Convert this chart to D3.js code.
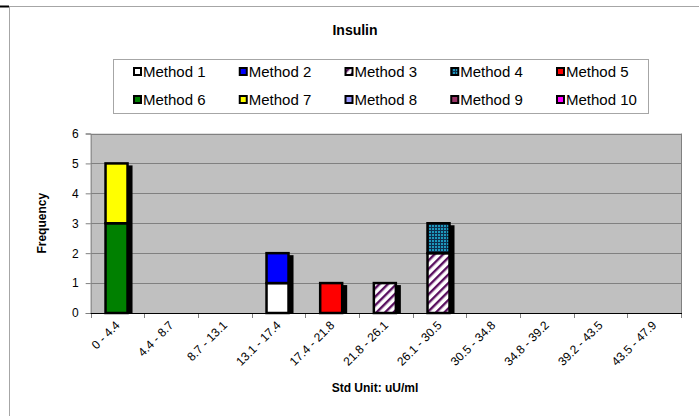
<!DOCTYPE html>
<html><head><meta charset="utf-8">
<script src="https://cdn.jsdelivr.net/npm/d3@7"></script>
<style>
html,body{margin:0;padding:0;background:#fff;}
svg{display:block;font-family:"Liberation Sans",Arial,sans-serif;}
</style></head>
<body>
<svg id="chart" width="699" height="416"></svg>
<script>
const categories = ["0 - 4.4","4.4 - 8.7","8.7 - 13.1","13.1 - 17.4","17.4 - 21.8","21.8 - 26.1","26.1 - 30.5","30.5 - 34.8","34.8 - 39.2","39.2 - 43.5","43.5 - 47.9"];
const methods = ["Method 1","Method 2","Method 3","Method 4","Method 5","Method 6","Method 7","Method 8","Method 9","Method 10"];
const method1  = [0,0,0,1,0,0,0,0,0,0,0];
const method2  = [0,0,0,1,0,0,0,0,0,0,0];
const method3  = [0,0,0,0,0,1,2,0,0,0,0];
const method4  = [0,0,0,0,0,0,1,0,0,0,0];
const method5  = [0,0,0,0,1,0,0,0,0,0,0];
const method6  = [3,0,0,0,0,0,0,0,0,0,0];
const method7  = [2,0,0,0,0,0,0,0,0,0,0];
const method8  = [0,0,0,0,0,0,0,0,0,0,0];
const method9  = [0,0,0,0,0,0,0,0,0,0,0];
const method10 = [0,0,0,0,0,0,0,0,0,0,0];
const yTicks = [0,1,2,3,4,5,6];
const title = "Insulin";
const xTitle = "Std Unit: uU/ml";
const yTitle = "Frequency";

const seriesValues = [method1,method2,method3,method4,method5,method6,method7,method8,method9,method10];
const fills = ["#ffffff","#0000ff","url(#hatch)","url(#checker)","#ff0000","#008000","#ffff00","#9999ff","#993366","#ff00ff"];

const svg = d3.select("#chart");
const defs = svg.append("defs");
const hatch = defs.append("pattern").attr("id","hatch").attr("patternUnits","userSpaceOnUse")
  .attr("width",6).attr("height",6).attr("patternTransform","rotate(45)");
hatch.append("rect").attr("width",6).attr("height",6).attr("fill","#ffffff");
hatch.append("rect").attr("width",2.4).attr("height",6).attr("fill","#5a1060");
const checker = defs.append("pattern").attr("id","checker").attr("patternUnits","userSpaceOnUse")
  .attr("width",3).attr("height",3);
checker.append("rect").attr("width",3).attr("height",3).attr("fill","#0e3050");
checker.append("rect").attr("width",2).attr("height",2).attr("fill","#1d98bc");

// outer chart border (cropped)
svg.append("line").attr("x1",9).attr("x2",699).attr("y1",6.5).attr("y2",6.5).attr("stroke","#a6a6a6");
svg.append("line").attr("x1",9.5).attr("x2",9.5).attr("y1",6).attr("y2",416).attr("stroke","#a6a6a6");
svg.append("line").attr("x1",0).attr("x2",9).attr("y1",6.5).attr("y2",6.5).attr("stroke","#000").attr("stroke-width",2);

const plot = {left:90.7, right:681, top:133.5, bottom:313};
const x = d3.scaleBand().domain(categories).range([plot.left, plot.right]).padding(0);
const y = d3.scaleLinear().domain([0,6]).range([plot.bottom, plot.top]);

// plot background
svg.append("rect").attr("x",plot.left).attr("y",plot.top)
  .attr("width",plot.right-plot.left).attr("height",plot.bottom-plot.top).attr("fill","#c0c0c0");

// gridlines
svg.append("g").selectAll("line").data(yTicks.filter(d=>d>0)).join("line")
  .attr("x1",plot.left).attr("x2",plot.right)
  .attr("y1",d=>Math.round(y(d))+0.5).attr("y2",d=>Math.round(y(d))+0.5)
  .attr("stroke","#808080");
// right border
svg.append("line").attr("x1",plot.right+0.5).attr("x2",plot.right+0.5).attr("y1",plot.top).attr("y2",plot.bottom)
  .attr("stroke","#808080");

// Y axis
const yAxis = d3.axisLeft(y).tickValues(yTicks).tickSize(5).tickPadding(7).tickFormat(d3.format("d"));
const gy = svg.append("g").attr("transform",`translate(${plot.left},0)`).call(yAxis);
gy.select(".domain").attr("stroke","#808080");
gy.selectAll(".tick line").attr("stroke","#808080");
gy.selectAll(".tick text").attr("font-size",12).attr("fill","#000").attr("font-family","Liberation Sans, Arial, sans-serif");

// X axis ticks at boundaries
const boundaries = categories.map(c=>x(c)).concat([plot.right]);
svg.append("g").selectAll("line").data(boundaries).join("line")
  .attr("x1",d=>Math.round(d)+0.5).attr("x2",d=>Math.round(d)+0.5)
  .attr("y1",plot.bottom).attr("y2",plot.bottom+5).attr("stroke","#808080");
svg.append("line").attr("x1",plot.left).attr("x2",plot.right+1).attr("y1",plot.bottom+0.5).attr("y2",plot.bottom+0.5)
  .attr("stroke","#000");

// x labels
svg.append("g").selectAll("text").data(categories).join("text")
  .attr("transform",d=>`translate(${x(d)+x.bandwidth()/2+3},${plot.bottom+13}) rotate(-45)`)
  .attr("text-anchor","end").attr("font-size",12).attr("fill","#000").text(d=>d);

// stacked data
const table = categories.map((c,i)=>{const o={cat:c}; methods.forEach((m,j)=>o[m]=seriesValues[j][i]); return o;});
const stacked = d3.stack().keys(methods)(table);
const barW = 22;
const bx = c => x(c)+x.bandwidth()/2 - barW/2 - 1;

// shadows
const totals = table.map(r=>({cat:r.cat,total:d3.sum(methods,m=>r[m])})).filter(d=>d.total>0);
svg.append("g").selectAll("rect").data(totals).join("rect")
  .attr("x",d=>bx(d.cat)+5).attr("y",d=>y(d.total)+2)
  .attr("width",barW).attr("height",d=>y(0)-y(d.total)-2).attr("fill","#000");

// segments
stacked.forEach((s,j)=>{
  svg.append("g").selectAll("rect").data(s.filter(d=>d[1]-d[0]>0)).join("rect")
    .attr("x",d=>bx(d.data.cat)).attr("y",d=>y(d[1]))
    .attr("width",barW).attr("height",d=>y(d[0])-y(d[1]))
    .attr("fill",fills[j]).attr("stroke","#000").attr("stroke-width",2.5);
});

// titles
svg.append("text").attr("x",355).attr("y",35).attr("text-anchor","middle")
  .attr("font-size",14).attr("font-weight","bold").text(title);
svg.append("text").attr("x",375).attr("y",392).attr("text-anchor","middle")
  .attr("font-size",12).attr("font-weight","bold").text(xTitle);
svg.append("text").attr("transform",`translate(46,${(plot.top+plot.bottom)/2}) rotate(-90)`)
  .attr("text-anchor","middle").attr("font-size",12).attr("font-weight","bold").text(yTitle);

// legend
const lg = svg.append("g");
lg.append("rect").attr("x",113.5).attr("y",59.5).attr("width",535).attr("height",54)
  .attr("fill","#fff").attr("stroke","#a6a6a6");
const colX = d3.scalePoint().domain(d3.range(5)).range([133,556]);
const rowY = d3.scalePoint().domain([0,1]).range([71.5,99.5]);
methods.forEach((m,j)=>{
  const cx = colX(j%5), cy = rowY(Math.floor(j/5));
  lg.append("rect").attr("x",cx+1).attr("y",cy-3.5).attr("width",7).attr("height",7)
    .attr("fill",fills[j]).attr("stroke","#000").attr("stroke-width",2);
  lg.append("text").attr("x",cx+10).attr("y",cy+5.5).attr("font-size",15).text(m);
});
</script>
</body></html>
